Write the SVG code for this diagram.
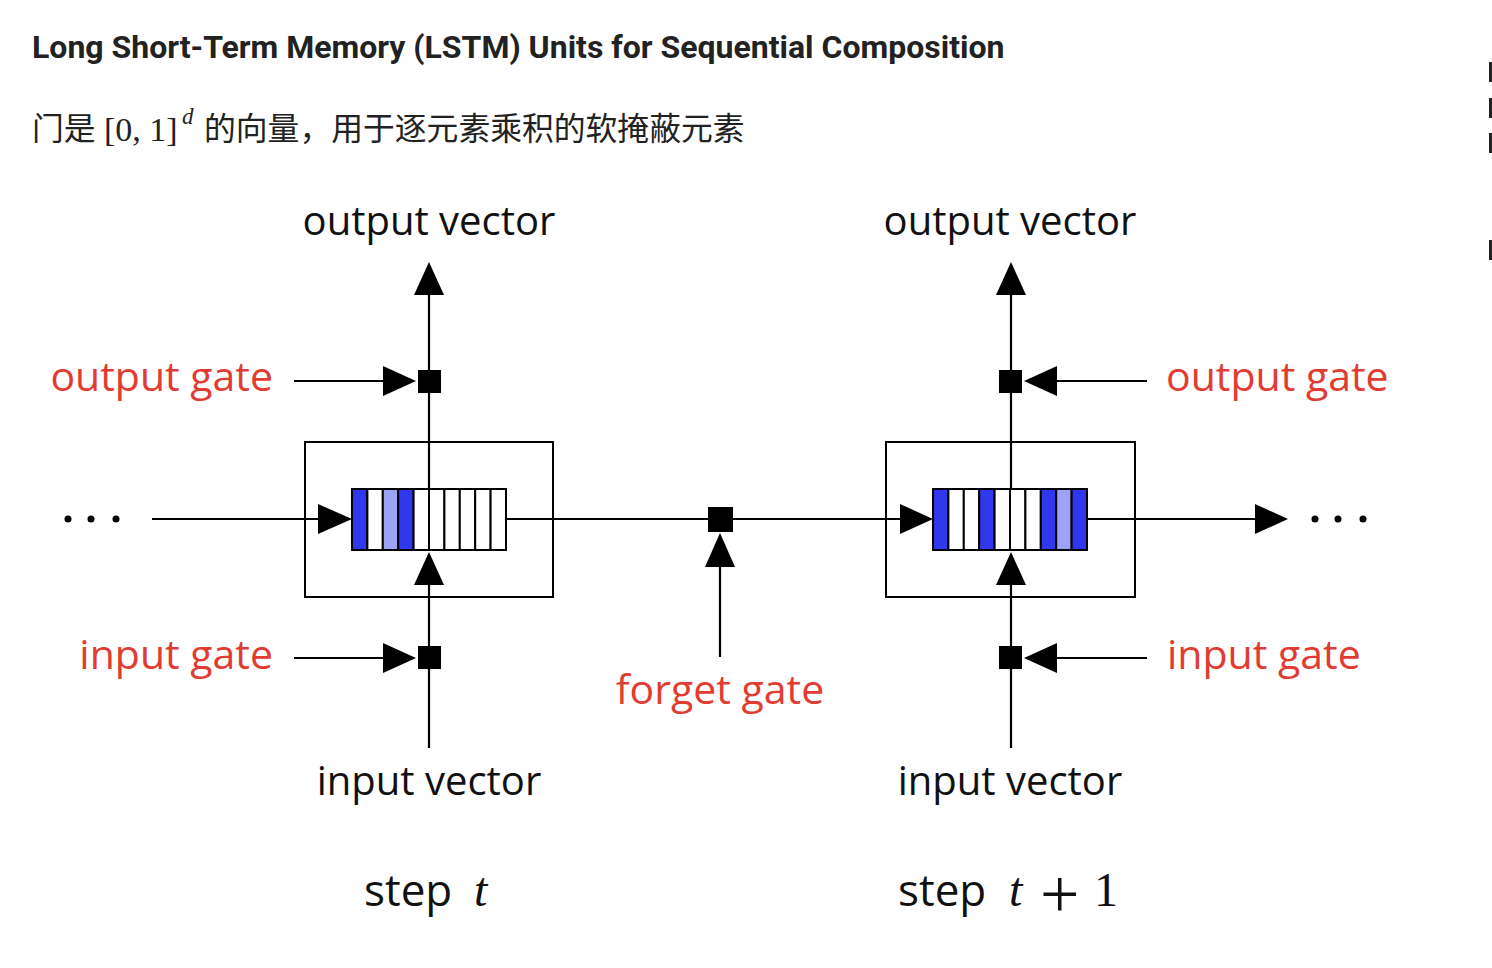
<svg xmlns="http://www.w3.org/2000/svg" width="1492" height="968" viewBox="0 0 1492 968">
<style>
.title{font-family:Roboto,"Liberation Sans",sans-serif;font-weight:700;font-size:32px;fill:#222}
.sub{font-family:"Noto Sans CJK SC","Noto Sans",sans-serif;font-size:31.8px;fill:#222}
.math{font-family:"Liberation Serif","DejaVu Serif",serif;fill:#222}
.lbl{font-family:"Open Sans","DejaVu Sans",sans-serif;font-size:40px;fill:#111}
.step{font-family:"Open Sans","DejaVu Sans",sans-serif;font-size:44px;fill:#111}
.red{font-family:"Open Sans","DejaVu Sans",sans-serif;font-size:41px;fill:#e23b32}
.ln{stroke:#000;stroke-width:2.2;fill:none}
.ah{fill:#000;stroke:none}
.sq{fill:#000}
.box{fill:#fff;stroke:#000;stroke-width:2}
.cell{stroke:#000;stroke-width:2}
.b{fill:#3038ee}
.l{fill:#9ca2f4}
.w{fill:#fff}
.it{font-family:"Liberation Serif","DejaVu Serif",serif;font-style:italic;font-size:48px;fill:#111}
.mt{font-family:"Liberation Serif","DejaVu Serif",serif;font-size:48px;fill:#111}
</style>
<rect width="1492" height="968" fill="#fff"/>
<g id="header">
<text class="title" x="32" y="58">Long Short-Term Memory (LSTM) Units for Sequential Composition</text>
<text class="sub" x="32" y="140">门是</text>
<text class="math" x="104" y="141" style="font-size:34px">[0, 1]</text>
<text class="math" x="182" y="124" style="font-size:23px;font-style:italic">d</text>
<text class="sub" x="204" y="140">的向量，用于逐元素乘积的软掩蔽元素</text>
</g>
<g id="edge-marks" fill="#222">
<rect x="1489" y="62" width="3" height="20"/>
<rect x="1489" y="98" width="3" height="20"/>
<rect x="1489" y="133" width="3" height="20"/>
<rect x="1489" y="240" width="3" height="20"/>
</g>
<g id="cell-t">
<rect class="box" x="305" y="442" width="248" height="155"/>
<g class="cell">
<rect class="b" x="352" y="489" width="15.4" height="61"/>
<rect class="w" x="367.4" y="489" width="15.4" height="61"/>
<rect class="l" x="382.8" y="489" width="15.4" height="61"/>
<rect class="b" x="398.2" y="489" width="15.4" height="61"/>
<rect class="w" x="413.6" y="489" width="15.4" height="61"/>
<rect class="w" x="429" y="489" width="15.4" height="61"/>
<rect class="w" x="444.4" y="489" width="15.4" height="61"/>
<rect class="w" x="459.8" y="489" width="15.4" height="61"/>
<rect class="w" x="475.2" y="489" width="15.4" height="61"/>
<rect class="w" x="490.6" y="489" width="15.4" height="61"/>
</g>
</g>
<g id="cell-t1">
<rect class="box" x="886" y="442" width="249" height="155"/>
<g class="cell">
<rect class="b" x="933" y="489" width="15.4" height="61"/>
<rect class="w" x="948.4" y="489" width="15.4" height="61"/>
<rect class="w" x="963.8" y="489" width="15.4" height="61"/>
<rect class="b" x="979.2" y="489" width="15.4" height="61"/>
<rect class="w" x="994.6" y="489" width="15.4" height="61"/>
<rect class="w" x="1010" y="489" width="15.4" height="61"/>
<rect class="w" x="1025.4" y="489" width="15.4" height="61"/>
<rect class="b" x="1040.8" y="489" width="15.4" height="61"/>
<rect class="l" x="1056.2" y="489" width="15.4" height="61"/>
<rect class="b" x="1071.6" y="489" width="15.4" height="61"/>
</g>
</g>
<g id="connectors">
<line class="ln" x1="152" y1="519" x2="320" y2="519"/>
<polygon class="ah" points="352,519 318,504 318,534"/>
<line class="ln" x1="506" y1="519" x2="902" y2="519"/>
<polygon class="ah" points="933,519 900,504 900,534"/>
<line class="ln" x1="1087" y1="519" x2="1257" y2="519"/>
<polygon class="ah" points="1288,519 1255,504 1255,534"/>
<line class="ln" x1="429" y1="489" x2="429" y2="292"/>
<polygon class="ah" points="429,262 414,295 444,295"/>
<line class="ln" x1="294" y1="381" x2="386" y2="381"/>
<polygon class="ah" points="416,381 383,366 383,396"/>
<line class="ln" x1="429" y1="748" x2="429" y2="583"/>
<polygon class="ah" points="429,552 414,585 444,585"/>
<line class="ln" x1="294" y1="658" x2="386" y2="658"/>
<polygon class="ah" points="416,658 383,643 383,673"/>
<line class="ln" x1="720" y1="657" x2="720" y2="565"/>
<polygon class="ah" points="720,533 705,567 735,567"/>
<line class="ln" x1="1011" y1="489" x2="1011" y2="292"/>
<polygon class="ah" points="1011,262 996,295 1026,295"/>
<line class="ln" x1="1147" y1="381" x2="1055" y2="381"/>
<polygon class="ah" points="1024,381 1057,366 1057,396"/>
<line class="ln" x1="1011" y1="748" x2="1011" y2="583"/>
<polygon class="ah" points="1011,552 996,585 1026,585"/>
<line class="ln" x1="1147" y1="658" x2="1055" y2="658"/>
<polygon class="ah" points="1024,658 1057,643 1057,673"/>
</g>
<g id="gate-out-t"><rect class="sq" x="418" y="370" width="23" height="23"/></g>
<g id="gate-in-t"><rect class="sq" x="418" y="646" width="23" height="23"/></g>
<g id="gate-forget"><rect class="sq" x="708" y="507" width="25" height="25"/></g>
<g id="gate-out-t1"><rect class="sq" x="999" y="370" width="23" height="23"/></g>
<g id="gate-in-t1"><rect class="sq" x="999" y="646" width="23" height="23"/></g>
<g id="dots" fill="#000">
<circle cx="68" cy="519" r="3.5"/><circle cx="91" cy="519" r="3.5"/><circle cx="116" cy="519" r="3.5"/>
<circle cx="1315" cy="519" r="3.5"/><circle cx="1338" cy="519" r="3.5"/><circle cx="1363" cy="519" r="3.5"/>
</g>
<g id="labels">
<text class="lbl" x="429" y="235" text-anchor="middle">output vector</text>
<text class="lbl" x="1010" y="235" text-anchor="middle">output vector</text>
<text class="red" x="273" y="391" text-anchor="end">output gate</text>
<text class="red" x="273" y="669" text-anchor="end">input gate</text>
<text class="red" x="1166" y="391">output gate</text>
<text class="red" x="1167" y="669">input gate</text>
<text class="red" x="720" y="704" text-anchor="middle">forget gate</text>
<text class="lbl" x="429" y="795" text-anchor="middle">input vector</text>
<text class="lbl" x="1010" y="795" text-anchor="middle">input vector</text>
<text class="step" x="364" y="906">step</text>
<text class="it" x="474" y="906">t</text>
<text class="step" x="898" y="906">step</text>
<text class="it" x="1009" y="906">t</text>
<text class="mt" x="1040" y="918" style="font-size:70px">+</text>
<text class="mt" x="1094" y="906">1</text>
</g>
</svg>
